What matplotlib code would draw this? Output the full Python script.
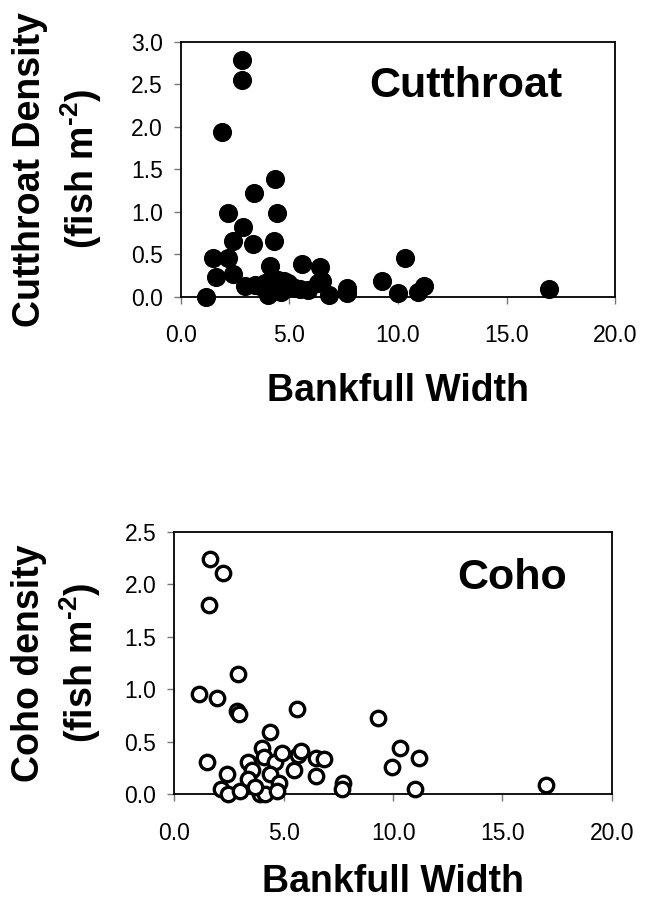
import matplotlib
matplotlib.use("Agg")
import matplotlib.pyplot as plt

plt.rcParams['font.family'] = ['Liberation Sans', 'DejaVu Sans']
plt.rcParams['mathtext.fontset'] = 'custom'
plt.rcParams['mathtext.rm'] = 'Liberation Sans:bold'
plt.rcParams['mathtext.it'] = 'Liberation Sans:bold'
plt.rcParams['mathtext.bf'] = 'Liberation Sans:bold'
plt.rcParams['mathtext.sf'] = 'Liberation Sans:bold'

# Cutthroat: bankfull width (m) and density (fish m^-2)
cut_width = [2.81, 2.81, 1.88, 4.35, 3.39, 2.18, 4.41, 2.87, 2.41, 3.33, 4.30,
             1.49, 2.18, 10.33, 1.64, 2.41, 4.10, 5.56, 6.40, 6.50, 2.95, 3.41,
             3.87, 4.49, 4.73, 4.95, 5.25, 4.03, 6.33, 6.82, 7.66, 7.63, 1.14,
             5.87, 9.28, 9.98, 10.90, 11.18, 16.95, 5.50, 3.65, 4.20, 4.60]
cut_density = [2.78, 2.55, 1.94, 1.39, 1.22, 0.99, 0.98, 0.82, 0.65, 0.62, 0.65,
               0.45, 0.46, 0.45, 0.23, 0.27, 0.36, 0.38, 0.35, 0.19, 0.13, 0.14,
               0.16, 0.20, 0.19, 0.16, 0.10, 0.02, 0.16, 0.02, 0.10, 0.04, 0.00,
               0.08, 0.18, 0.04, 0.05, 0.12, 0.09, 0.09, 0.12, 0.10, 0.06]

# Coho: bankfull width (m) and density (fish m^-2)
coho_width = [1.63, 2.24, 1.60, 2.92, 1.14, 1.96, 2.85, 2.97, 5.59, 9.32, 4.37,
              10.33, 11.19, 9.97, 1.51, 2.39, 2.13, 2.47, 3.00, 3.38, 3.53, 3.38,
              3.99, 4.09, 4.60, 4.37, 4.79, 3.91, 4.14, 4.67, 4.90, 5.63, 5.81,
              5.46, 6.47, 6.85, 6.47, 7.69, 7.66, 10.99, 17.00, 3.68]
coho_density = [2.24, 2.11, 1.80, 1.14, 0.95, 0.91, 0.79, 0.76, 0.81, 0.72, 0.59,
                0.44, 0.34, 0.26, 0.30, 0.19, 0.05, 0.00, 0.03, 0.30, 0.23, 0.14,
                0.44, 0.35, 0.30, 0.19, 0.10, 0.00, 0.00, 0.03, 0.39, 0.37, 0.41,
                0.23, 0.34, 0.33, 0.17, 0.10, 0.05, 0.05, 0.09, 0.07]

x_ticks = [0, 5, 10, 15, 20]
x_ticklabels = ["0.0", "5.0", "10.0", "15.0", "20.0"]
cut_yticks = [0, 0.5, 1.0, 1.5, 2.0, 2.5, 3.0]
coho_yticks = [0, 0.5, 1.0, 1.5, 2.0, 2.5]

fig = plt.figure(figsize=(6.53, 9.01), dpi=100)
ax1 = fig.add_axes([0.277, 0.6707, 0.665, 0.283])
ax2 = fig.add_axes([0.267, 0.1188, 0.670, 0.2911])

def style(ax, yticks, ymax):
    ax.set_xlim(0, 20)
    ax.set_ylim(0, ymax)
    ax.set_xticks(x_ticks)
    ax.set_xticklabels(x_ticklabels)
    ax.set_yticks(yticks)
    ax.set_yticklabels([f"{v:.1f}" for v in yticks])
    for s in ax.spines.values():
        s.set_linewidth(1.3)
        s.set_color('black')
    ax.tick_params(axis='both', direction='out', length=5, width=1,
                   color='#777777', labelsize=16.5, labelcolor='black')
    ax.tick_params(axis='x', pad=15)
    ax.tick_params(axis='y', pad=8)

style(ax1, cut_yticks, 3.0)
style(ax2, coho_yticks, 2.5)

ax1.scatter(cut_width, cut_density, s=190, c='black', edgecolors='black',
            linewidths=0, clip_on=False, zorder=3)
ax2.scatter(coho_width, coho_density, s=108, facecolors='white',
            edgecolors='black', linewidths=2.4, clip_on=False, zorder=3)

ax1.text(0.657, 0.784, "Cutthroat", transform=ax1.transAxes, ha='center',
         va='baseline', fontsize=31, fontweight='bold')
ax2.text(0.773, 0.782, "Coho", transform=ax2.transAxes, ha='center',
         va='baseline', fontsize=31, fontweight='bold')

ax1.set_xlabel("Bankfull Width", fontsize=27, fontweight='bold', va='center')
ax1.xaxis.set_label_coords(0.5, -0.37)
ax2.set_xlabel("Bankfull Width", fontsize=27, fontweight='bold', va='center')
ax2.xaxis.set_label_coords(0.5, -0.335)

unit = "(fish m$^{\\text{-2}}$)"
ax1.set_ylabel("Cutthroat Density\n" + unit, fontsize=27,
               fontweight='bold', va='center', linespacing=1.3)
ax1.yaxis.set_label_coords(-0.283, 0.5)
ax2.set_ylabel("Coho density\n" + unit, fontsize=27,
               fontweight='bold', va='center', linespacing=1.3)
ax2.yaxis.set_label_coords(-0.268, 0.5)

fig.savefig("out.png", dpi=100)
